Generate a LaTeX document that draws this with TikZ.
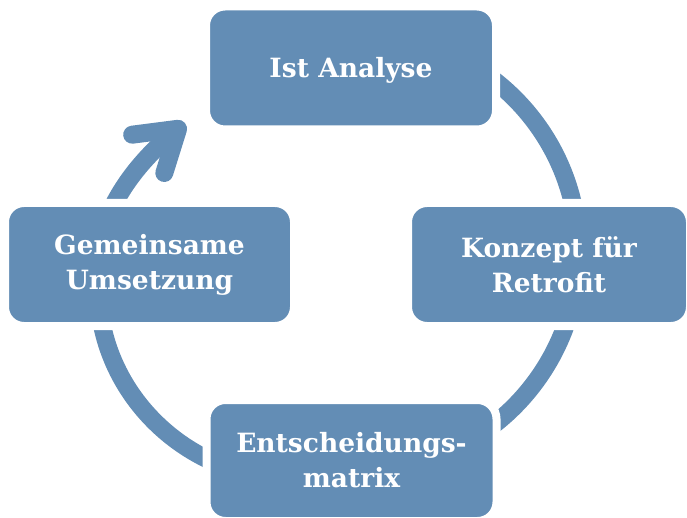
\documentclass[tikz,border=0pt]{standalone}
\usepackage{fontspec}
\setmainfont{DejaVu Serif}
\usetikzlibrary{arrows.meta,backgrounds}
\definecolor{stageblue}{RGB}{99,141,181}
\tikzset{
  stage/.style={rectangle, rounded corners=19pt, fill=stageblue, draw=white,
    line width=8pt, minimum width=290pt, minimum height=123pt, inner sep=0pt,
    text=white, align=center, font=\bfseries\fontsize{26.5}{35}\selectfont},
  cycleline/.style={draw=stageblue, line width=18pt},
}
\begin{document}
\begin{tikzpicture}[x=1pt,y=1pt]
  \useasboundingbox (0,0) rectangle (687,517);
  \node[stage, text height=19.3pt, text depth=0pt] (ist) at (351,449) {Ist Analyse};
  \node[stage, minimum width=282pt] (konzept) at (549,252.5) {Konzept für\\Retrofit};
  \node[stage, minimum height=121pt] (entscheidung) at (351.5,56.5) {Entscheidungs-\\matrix};
  \node[stage, minimum width=289pt] (umsetzung) at (149.5,252.5) {Gemeinsame\\Umsetzung};
  \coordinate (tip) at (185,394);
  \begin{scope}[on background layer]
    \draw[cycleline] ([shift={(119,4)}]ist.center) to[out=-30.3, in=86.6, looseness=0.92] ([xshift=29pt]konzept.center);
    \draw[cycleline] ([xshift=29pt]konzept.center) to[out=-93.3, in=17.4, looseness=0.93] ([xshift=74pt]entscheidung.center);
    \draw[cycleline] ([xshift=18.5pt]entscheidung.center) to[out=205.1, in=-96.6, looseness=1.14] ([xshift=-50pt]umsetzung.center);
    \draw[cycleline, -{Straight Barb[length=39pt,width=50pt,round]}] ([xshift=-53pt]umsetzung.center) to[out=85.8, in=220, looseness=0.9] (tip);
  \end{scope}
\end{tikzpicture}
\end{document}
